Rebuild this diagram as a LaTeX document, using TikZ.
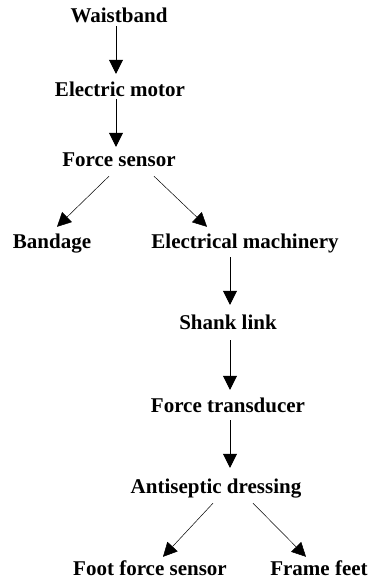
\documentclass[tikz,border=0pt]{standalone}
\usepackage{fontspec}
\setmainfont{Liberation Serif}
\usetikzlibrary{positioning, calc, arrows.meta}

\tikzset{
	part/.style={font=\bfseries\fontsize{21}{25}\selectfont, inner sep=0pt, text height=15pt, text depth=5pt, anchor=base},
	link/.style={line width=0.5pt, -{Triangle[length=14pt,width=14pt]}}
}

\begin{document}
\begin{tikzpicture}[x=1pt,y=-1pt]
			\useasboundingbox (0,0) rectangle (370,582);
			\node[part] (wb) at (119,22.5) {Waistband};
			\node[part] (em) at (120,96.5) {Electric motor};
			\node[part] (fs) at (119,166.5) {Force sensor};
			\node[part] (bd) at (52,248) {Bandage};
			\node[part] (emach) at (245,248) {Electrical machinery};
			\node[part] (sl) at (228,329) {Shank link};
			\node[part] (ft) at (228,412) {Force transducer};
			\node[part] (ad) at (216,493) {Antiseptic dressing};
			\node[part] (ffs) at (150,575) {Foot force sensor};
			\node[part] (ff) at (319,575) {Frame feet};
			\draw[link] ([shift={(-3,-1.5)}]wb.south) -- ([shift={(-4,-7.5)}]em.north);
			\draw[link] ([shift={(-4,-2.5)}]em.south) -- ([shift={(-3,-4.5)}]fs.north);
			\draw[link] ([shift={(-10,4.5)}]fs.south) -- ([shift={(5,-6)}]bd.north);
			\draw[link] ([shift={(35,4.5)}]fs.south) -- ([shift={(-38,-6)}]emach.north);
			\draw[link] ([shift={(-15,4)}]emach.south) -- ([shift={(2,-9)}]sl.north);
			\draw[link] ([shift={(2,6)}]sl.south) -- ([shift={(2,-7)}]ft.north);
			\draw[link] ([shift={(2,3)}]ft.south) -- ([shift={(14,-10)}]ad.north);
			\draw[link] ([shift={(-3,5)}]ad.south) -- ([shift={(13,-3)}]ffs.north);
			\draw[link] ([shift={(37,5)}]ad.south) -- ([shift={(-13,-3)}]ff.north);
		\end{tikzpicture}
\end{document}
